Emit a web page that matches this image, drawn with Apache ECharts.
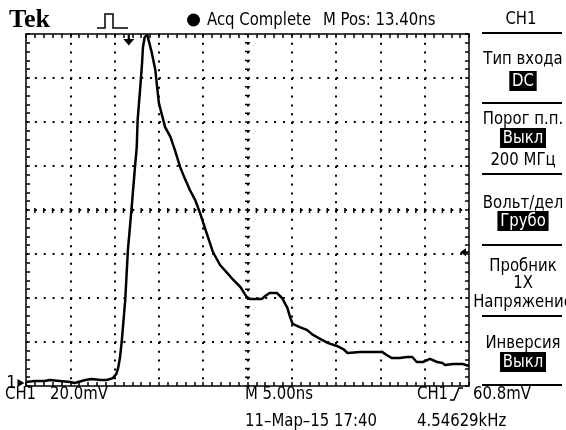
<!DOCTYPE html>
<html>
<head>
<meta charset="utf-8">
<script src="https://cdn.jsdelivr.net/npm/echarts@6/dist/echarts.min.js"></script>
<style>
  html, body { margin: 0; padding: 0; background: #fff; }
  #scope { width: 566px; height: 430px; }
</style>
</head>
<body>
<div id="scope"></div>
<script>
// CH1 trace: time in ns, voltage in mV
var timeNs = [0, 1.0, 2.1, 2.7, 3.8, 5.0, 5.5, 6.7, 7.4, 8.4, 9.1, 9.8, 10.2, 10.4, 10.6, 10.8, 11.2, 11.5, 11.9, 12.3, 12.5, 12.6, 12.9, 13.1, 13.2, 13.4, 13.7, 13.9, 14.2, 14.6, 14.8, 15.0, 15.4, 15.7, 16.3, 16.8, 17.4, 17.9, 18.5, 19.1, 19.6, 20.2, 21.1, 21.9, 22.7, 23.4, 24.2, 24.9, 25.3, 26.6, 27.0, 27.5, 28.3, 28.9, 29.5, 29.8, 30.1, 30.9, 31.7, 32.4, 33.2, 34.1, 35.1, 35.8, 36.3, 37.7, 40.2, 40.7, 41.3, 42.2, 43.0, 43.6, 44.1, 44.8, 45.6, 46.4, 47.0, 47.3, 48.2, 49.3, 50];
var ch1mV  = [1.8, 2.3, 2.3, 2.7, 2.3, 1.8, 1.4, 2.7, 3.2, 2.7, 2.7, 3.6, 5.5, 8.2, 12.7, 20, 39, 61.8, 80, 99.5, 108.6, 120.9, 135.9, 146.8, 154, 158.6, 159.5, 158.6, 151.4, 143.6, 135.9, 128.6, 122.3, 117.7, 113.2, 107.3, 99.5, 94.5, 89.1, 84.5, 79.1, 71.8, 60.9, 55, 51.4, 48.2, 45, 40.5, 39.5, 39.5, 40.9, 42.3, 42.3, 40, 35.5, 31.4, 28.2, 26.8, 25.5, 23.2, 21.4, 19.5, 18.2, 16.8, 15, 15.5, 15.5, 14.1, 12.7, 12.7, 13.2, 13.2, 10.9, 10.9, 12.3, 10.9, 10.5, 9.5, 10, 10, 9.1];

// screen scales: 10 div x 5 ns, 8 div x 20 mV
var T_MAX = 50, T_DIV = 5;
var V_MAX = 160, V_DIV = 20;
var TRIG_LEVEL_MV = 60.8;
var TRIG_POS_NS = 11.6;

// menu on the right
var menuTitles = ['Тип входа', 'Порог п.п.', 'Вольт/дел', 'Пробник', 'Инверсия'];
var menuValues = ['DC', 'Выкл', 'Грубо', '1X', 'Выкл'];

var FONT = '"DejaVu Sans Condensed", "Liberation Sans Narrow", sans-serif';

var chart = echarts.init(document.getElementById('scope'), null, { renderer: 'canvas' });

var trace = [];
for (var i = 0; i < timeNs.length; i++) trace.push([timeNs[i], ch1mV[i]]);

function borderAxis(pos, max, step, dots) {
    return {
        type: 'value', min: 0, max: max, interval: step, position: pos,
        axisLine: { show: true, onZero: false, lineStyle: { color: '#000', width: 1.5 } },
        axisTick: { show: true, inside: true, length: 4, lineStyle: { color: '#000', width: 1.5 } },
        minorTick: { show: true, splitNumber: 5, length: 4, lineStyle: { color: '#000', width: 1.5 } },
        axisLabel: { show: false },
        splitLine: dots ? { show: true, showMinLine: false, showMaxLine: false,
                            lineStyle: { color: '#000', width: 2, type: dots } } : { show: false }
    };
}
function centerAxis(pos, max, dash) {
    return {
        type: 'value', min: 0, max: max, interval: max / 2, position: pos,
        axisLine: { show: false }, axisTick: { show: false }, axisLabel: { show: false },
        splitLine: { show: true, showMinLine: false, showMaxLine: false,
                     lineStyle: { color: '#000', width: 5, type: dash, dashOffset: 0.75 } }
    };
}

function txt(s, x, y, opts) {
    opts = opts || {};
    return {
        type: 'text', x: x, y: y, z: 10,
        scaleX: opts.sx || 0.92,
        style: {
            text: s, fill: opts.fill || '#000',
            font: (opts.weight || 'normal') + ' ' + (opts.size || 18) + 'px ' + (opts.family || FONT),
            textAlign: opts.align || 'left', textVerticalAlign: 'middle',
            backgroundColor: opts.bg, padding: opts.pad
        }
    };
}
function inv(s, x, y) {
    return txt(s, x, y, { align: 'center', fill: '#fff', bg: '#000', pad: [1, 3] });
}
function hline(x1, x2, y) {
    return { type: 'line', shape: { x1: x1, y1: y, x2: x2, y2: y }, style: { stroke: '#000', lineWidth: 2 } };
}

var panelX = 523;
var graphics = [
    txt('Tek', 9, 20, { weight: 'bold', size: 26, sx: 1, family: '"Liberation Serif", serif' }),
    { type: 'polyline', shape: { points: [[97, 28], [105, 28], [105, 14], [113, 14], [113, 28], [128, 28]] },
      style: { stroke: '#000', lineWidth: 1.5, fill: null } },
    { type: 'circle', shape: { cx: 193.5, cy: 20, r: 6.5 }, style: { fill: '#000' } },
    txt('Acq Complete', 207, 20),
    txt('M Pos: 13.40ns', 323, 20),
    txt('CH1', 521, 19, { align: 'center' }),
    hline(482, 562, 33),
    txt(menuTitles[0], panelX, 59, { align: 'center' }),
    inv(menuValues[0], panelX, 81),
    hline(482, 562, 103),
    txt(menuTitles[1], panelX, 119, { align: 'center' }),
    inv(menuValues[1], panelX, 138),
    txt('200 МГц', panelX, 160, { align: 'center' }),
    hline(482, 562, 174),
    txt(menuTitles[2], panelX, 203, { align: 'center' }),
    inv(menuValues[2], panelX, 221),
    hline(482, 562, 245),
    txt(menuTitles[3], panelX, 266, { align: 'center' }),
    txt(menuValues[3], panelX, 283, { align: 'center' }),
    txt('Напряжение', panelX, 302, { align: 'center' }),
    hline(482, 562, 316),
    txt(menuTitles[4], panelX, 343, { align: 'center' }),
    inv(menuValues[4], panelX, 362),
    hline(482, 562, 385),
    txt('CH1', 5, 394),
    txt('20.0mV', 50, 394),
    txt('M 5.00ns', 245, 394),
    txt('CH1', 417, 394),
    { type: 'polyline', shape: { points: [[450, 400], [454, 400], [459, 388], [463, 388]] },
      style: { stroke: '#000', lineWidth: 1.5, fill: null } },
    txt('60.8mV', 473, 394),
    txt('11–Мар–15 17:40', 245, 421),
    txt('4.54629kHz', 417, 421)
];

var option = {
    animation: false,
    backgroundColor: '#fff',
    grid: { left: 26, top: 34, width: 443, height: 352, containLabel: false, outerBoundsMode: 'none' },
    xAxis: [
        borderAxis('bottom', T_MAX, T_DIV, [2, 6.8]),
        borderAxis('top', T_MAX, T_DIV, null),
        centerAxis('bottom', T_MAX, [1.5, 7.3])
    ],
    yAxis: [
        borderAxis('left', V_MAX, V_DIV, [2, 6.86]),
        borderAxis('right', V_MAX, V_DIV, null),
        centerAxis('left', V_MAX, [1.5, 7.36])
    ],
    series: [{
        name: 'CH1', type: 'line', data: trace,
        xAxisIndex: 0, yAxisIndex: 0,
        showSymbol: false, symbol: 'none', z: 5,
        lineStyle: { color: '#000', width: 2.5 },
        markPoint: {
            silent: true,
            label: { show: false },
            itemStyle: { color: '#000' },
            data: [
                { coord: [TRIG_POS_NS, V_MAX], symbol: 'path://M4,0 H6 V4 H10 L5,10 L0,4 H4 Z',
                  symbolSize: [11, 11], symbolOffset: [0, 6] },
                { coord: [T_MAX, TRIG_LEVEL_MV], symbol: 'path://M0,4 L6,0 V3 H9 V5 H6 V8 Z',
                  symbolSize: [9, 8], symbolOffset: [-4.5, 0] },
                { coord: [0, 0], symbol: 'path://M0,0 L7,4 L0,8 Z', symbolSize: [7, 8], symbolOffset: [-5, -3],
                  label: { show: true, formatter: '1', position: 'left', distance: 1, color: '#000',
                           fontSize: 18, fontFamily: FONT } }
            ]
        }
    }],
    graphic: graphics
};

chart.setOption(option);
</script>
</body>
</html>
